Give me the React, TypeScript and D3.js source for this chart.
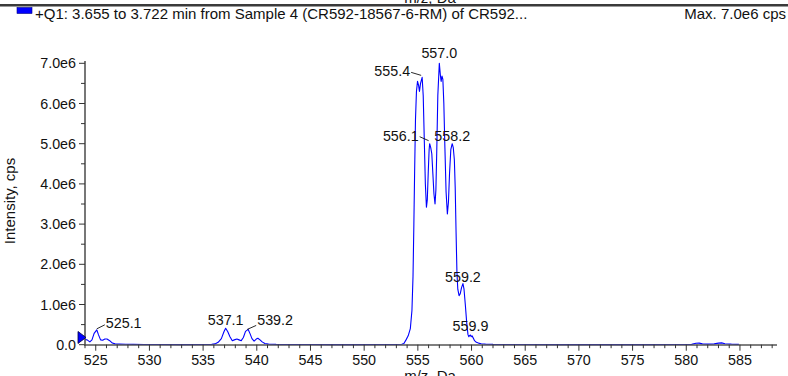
import React from "react";
import * as d3 from "d3";

// Q1 profile spectrum: m/z (Da) and intensity (cps)
const mzValues = [
  524.0, 524.2, 524.45, 524.65, 524.85, 525.1, 525.25, 525.45, 525.65, 525.85,
  526.05, 526.3, 526.55, 526.8, 527.2, 527.8, 528.5, 529.5, 531, 533,
  535, 535.8, 536.1, 536.4, 536.7, 536.95, 537.1, 537.3, 537.5, 537.72,
  537.9, 538.15, 538.35, 538.55, 538.75, 538.95, 539.2, 539.38, 539.55, 539.75,
  539.95, 540.1, 540.3, 540.5, 540.75, 541.1, 541.8, 543, 545, 547,
  549, 551, 553, 553.5, 553.7, 553.9, 554.1, 554.3, 554.45, 554.55,
  554.63, 554.7, 554.78, 554.87, 554.97, 555.07, 555.15, 555.25, 555.4, 555.5,
  555.6, 555.7, 555.8, 555.88, 555.97, 556.05, 556.1, 556.2, 556.3, 556.4,
  556.5, 556.6, 556.68, 556.76, 556.86, 557.0, 557.1, 557.17, 557.25, 557.33,
  557.42, 557.52, 557.63, 557.75, 557.85, 557.95, 558.07, 558.2, 558.3, 558.4,
  558.48, 558.56, 558.64, 558.72, 558.84, 558.95, 559.07, 559.2, 559.3, 559.42,
  559.55, 559.67, 559.75, 559.82, 559.9, 559.97, 560.05, 560.15, 560.28, 560.45,
  560.65, 560.9, 561.3, 562, 563, 565, 568, 572, 576, 579,
  580.5, 580.9, 581.2, 581.5, 582, 582.6, 583.0, 583.3, 583.6, 584.2,
  584.9,
];

const intensityValues = [
  0.13e6, 0.12e6, 0.07e6, 0.12e6, 0.28e6, 0.37e6, 0.25e6, 0.12e6, 0.11e6, 0.14e6,
  0.14e6, 0.1e6, 0.04e6, 0.02e6, 0.015e6, 0.01e6, 0.008e6, 0.005e6, 0.004e6, 0.003e6,
  0.005e6, 0.008e6, 0.02e6, 0.06e6, 0.15e6, 0.33e6, 0.41e6, 0.32e6, 0.2e6, 0.1e6,
  0.12e6, 0.14e6, 0.12e6, 0.1e6, 0.18e6, 0.33e6, 0.38e6, 0.27e6, 0.15e6, 0.09e6,
  0.14e6, 0.16e6, 0.12e6, 0.07e6, 0.03e6, 0.015e6, 0.008e6, 0.005e6, 0.004e6, 0.003e6,
  0.003e6, 0.004e6, 0.004e6, 0.01e6, 0.03e6, 0.12e6, 0.22e6, 0.4e6, 0.85e6, 1.7e6,
  3.0e6, 4.3e6, 5.6e6, 6.3e6, 6.55e6, 6.45e6, 6.3e6, 6.5e6, 6.65e6, 6.2e6,
  5.1e6, 4.0e6, 3.42e6, 3.6e6, 4.3e6, 4.85e6, 5.0e6, 4.9e6, 4.75e6, 4.25e6,
  3.75e6, 3.5e6, 3.85e6, 4.8e6, 6.2e6, 7.0e6, 6.7e6, 6.55e6, 6.68e6, 6.6e6,
  6.0e6, 4.9e6, 3.8e6, 3.25e6, 3.55e6, 4.25e6, 4.85e6, 5.0e6, 4.9e6, 4.6e6,
  3.9e6, 2.8e6, 1.8e6, 1.38e6, 1.22e6, 1.27e6, 1.42e6, 1.52e6, 1.38e6, 1.0e6,
  0.55e6, 0.25e6, 0.2e6, 0.23e6, 0.24e6, 0.2e6, 0.22e6, 0.17e6, 0.1e6, 0.06e6,
  0.04e6, 0.025e6, 0.015e6, 0.008e6, 0.006e6, 0.004e6, 0.003e6, 0.003e6, 0.003e6, 0.004e6,
  0.008e6, 0.035e6, 0.04e6, 0.02e6, 0.015e6, 0.02e6, 0.04e6, 0.045e6, 0.025e6, 0.015e6,
  0.008e6,
];

// Annotated peak centroids (m/z)
const peakLabels = [525.1, 537.1, 539.2, 555.4, 556.1, 557.0, 558.2, 559.2, 559.9];

const xMajorTicks = [525, 530, 535, 540, 545, 550, 555, 560, 565, 570, 575, 580, 585];
const yMajorTicks = [0, 1e6, 2e6, 3e6, 4e6, 5e6, 6e6, 7e6];
const yTickLabels = ["0.0", "1.0e6", "2.0e6", "3.0e6", "4.0e6", "5.0e6", "6.0e6", "7.0e6"];

const headerText = "+Q1: 3.655 to 3.722 min from Sample 4 (CR592-18567-6-RM) of CR592...";
const maxText = "Max. 7.0e6 cps";

// Label placement relative to each peak apex (pixels)
type Placement = { anchor: "start" | "middle" | "end"; dx: number; dy: number; leader?: [number, number, number, number] };
const placement: Record<string, Placement> = {
  "525.1": { anchor: "start", dx: 9, dy: -2, leader: [0, -1, 8, -5] },
  "537.1": { anchor: "middle", dx: 0, dy: -3 },
  "539.2": { anchor: "start", dx: 9, dy: -4, leader: [-1, 0, 8, -4] },
  "555.4": { anchor: "end", dx: -12, dy: -1, leader: [-11, -5, -1, -2] },
  "556.1": { anchor: "end", dx: -11, dy: -3, leader: [-10, -7, -1, -3] },
  "557.0": { anchor: "middle", dx: 0, dy: -5 },
  "558.2": { anchor: "middle", dx: 0, dy: -3 },
  "559.2": { anchor: "middle", dx: 0, dy: -2 },
  "559.9": { anchor: "middle", dx: 0, dy: -4 },
};

const W = 788;
const H = 376;
const FONT = "'Liberation Sans', Arial, Helvetica, sans-serif";
const FS = 14.3;
const FS_TITLE = 15;

export default function App() {
  const x = d3.scaleLinear().domain([524, 588.45]).range([85, 777]);
  const y = d3.scaleLinear().domain([0, 7e6]).range([344.7, 63.3]);

  const points: [number, number][] = mzValues.map((m, i) => [m, intensityValues[i]]);
  const line = d3
    .line<[number, number]>()
    .x((d) => x(d[0]))
    .y((d) => y(d[1]));

  const xMinor = d3.range(524, 589, 1).filter((v) => v % 5 !== 0);
  const yMinor = d3.range(0.5e6, 7e6, 1e6);

  const x0 = x.range()[0];
  const y0 = y(0);
  const firstY = y(intensityValues[0]);

  return (
    <svg
      width={W}
      height={H}
      viewBox={`0 0 ${W} ${H}`}
      style={{ position: "absolute", left: 0, top: 0, background: "#fff" }}
      fontFamily={FONT}
      fontSize={FS}
    >
      <rect width={W} height={H} fill="#fff" />

      {/* previous pane's axis title, clipped at the top edge */}
      <text x={430} y={3} textAnchor="middle" fill="#111" fontSize={FS_TITLE}>m/z, Da</text>

      {/* pane separator */}
      <rect x={0} y={4} width={W} height={2} fill="#3a3a3a" />
      <line x1={0} x2={W} y1={6.5} y2={6.5} stroke="#9a9a9a" strokeWidth={1} />

      {/* header */}
      <rect x={17} y={7.5} width={15} height={6} fill="#0000ff" stroke="#000080" strokeWidth={0.6} />
      <text x={35} y={18.5} fill="#111" fontSize={FS_TITLE}>{headerText}</text>
      <text x={786} y={18.5} textAnchor="end" fill="#111" fontSize={FS_TITLE}>{maxText}</text>

      {/* spectrum trace */}
      <path d={line(points) ?? ""} fill="none" stroke="#0000ff" strokeWidth={1.1} strokeLinejoin="round" />

      {/* y axis */}
      <line x1={x0} x2={x0} y1={61} y2={y0 + 0.5} stroke="#555" strokeWidth={1.6} />
      {yMajorTicks.map((t, i) => (
        <g key={`ym${t}`}>
          <line x1={x0 - 6} x2={x0} y1={y(t)} y2={y(t)} stroke="#333" strokeWidth={1} />
          <text x={x0 - 9} y={y(t)} dy="0.36em" textAnchor="end" fill="#111">
            {yTickLabels[i]}
          </text>
        </g>
      ))}
      {yMinor.map((t) => (
        <line key={`yn${t}`} x1={x0 - 4} x2={x0} y1={y(t)} y2={y(t)} stroke="#333" strokeWidth={1} />
      ))}
      <text transform={`translate(15, 201) rotate(-90)`} textAnchor="middle" fill="#111" fontSize={FS_TITLE}>
        Intensity, cps
      </text>

      {/* x axis */}
      <line x1={x0 - 1} x2={777} y1={y0 + 0.3} y2={y0 + 0.3} stroke="#555" strokeWidth={1.6} />
      {xMajorTicks.map((t) => (
        <g key={`xm${t}`}>
          <line x1={x(t)} x2={x(t)} y1={y0} y2={y0 + 6} stroke="#333" strokeWidth={1} />
          <text x={x(t)} y={364.5} textAnchor="middle" fill="#111">{t}</text>
        </g>
      ))}
      {xMinor.map((t) => (
        <line key={`xn${t}`} x1={x(t)} x2={x(t)} y1={y0} y2={y0 + 3.5} stroke="#333" strokeWidth={1} />
      ))}
      <text x={430} y={381} textAnchor="middle" fill="#111" fontSize={FS_TITLE}>m/z, Da</text>

      {/* start-of-trace marker */}
      <path
        d={`M${x0 - 7},${firstY - 8} L${x0 + 1},${firstY - 2} L${x0 - 7},${firstY + 4} Z`}
        fill="#0000ff"
        stroke="#000040"
        strokeWidth={0.8}
      />

      {/* peak annotations */}
      {peakLabels.map((m) => {
        const idx = mzValues.indexOf(m);
        const px = x(m);
        const py = y(intensityValues[idx]);
        const key = m.toFixed(1);
        const p = placement[key];
        return (
          <g key={key}>
            {p.leader && (
              <line
                x1={px + p.leader[0]}
                y1={py + p.leader[1]}
                x2={px + p.leader[2]}
                y2={py + p.leader[3]}
                stroke="#111"
                strokeWidth={0.9}
              />
            )}
            <text x={px + p.dx} y={py + p.dy} textAnchor={p.anchor} fill="#111">
              {key}
            </text>
          </g>
        );
      })}
    </svg>
  );
}
